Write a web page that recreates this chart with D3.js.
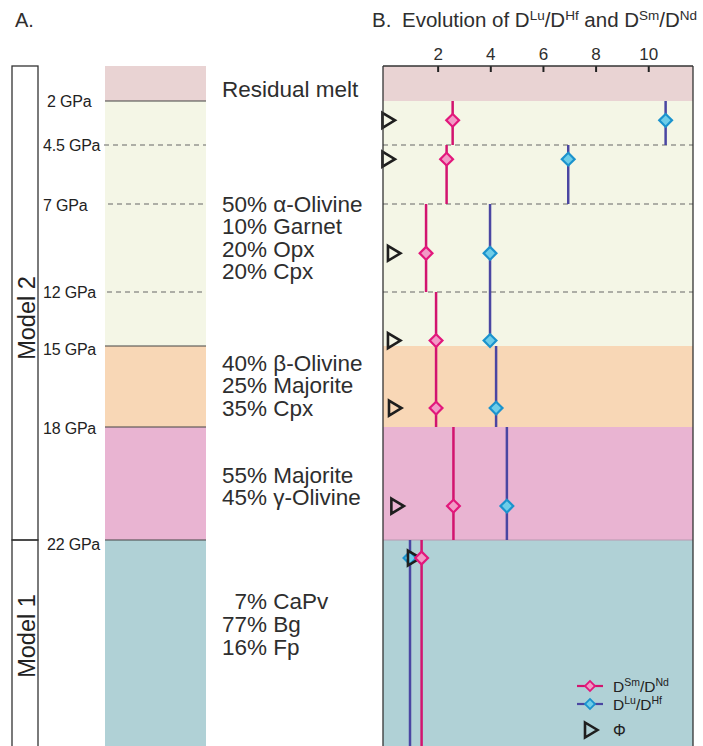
<!DOCTYPE html>
<html><head><meta charset="utf-8">
<script src="https://cdn.jsdelivr.net/npm/d3@7"></script>
<style>
body{margin:0;background:#fff}
svg{display:block}
text{font-family:"Liberation Sans",Arial,Helvetica,sans-serif}
</style>
</head><body>
<svg id="chart" width="703" height="746"></svg>
<script>
// ---------------- DATA ----------------
const pressureTicks = [2, 4.5, 7, 12, 15, 18, 22];
const pressureTickLabels = ["2 GPa", "4.5 GPa", "7 GPa", "12 GPa", "15 GPa", "18 GPa", "22 GPa"];
const solidBoundaries = [2, 15, 18, 22];
const dashedBoundaries = [4.5, 7, 12];
const layerTop = [0, 2, 15, 18, 22];
const layerBottom = [2, 15, 18, 22, 30];
const mineralText = [
  ["Residual melt"],
  ["50% α-Olivine", "10% Garnet", "20% Opx", "20% Cpx"],
  ["40% β-Olivine", "25% Majorite", "35% Cpx"],
  ["55% Majorite", "45% γ-Olivine"],
  ["\u20077% CaPv", "77% Bg", "16% Fp"]
];
const modelNames = ["Model 2", "Model 1"];
const modelTop = [0, 22];
const modelBottom = [22, 30];

const intervalTop = [2, 4.5, 7, 12, 15, 18, 22];
const intervalBottom = [4.5, 7, 12, 15, 18, 22, 30];
const markerPressure = [3.1, 5.1, 9.8, 14.7, 17.3, 20.8, 22.7];
const smNd = [2.57, 2.34, 1.56, 1.94, 1.94, 2.60, 1.39];
const luHf = [10.66, 6.96, 3.99, 3.99, 4.22, 4.63, 0.95];
const phi = [0.13, 0.13, 0.34, 0.34, 0.38, 0.47, 1.10];
const xTicks = [2, 4, 6, 8, 10];

// ---------------- STYLE / LAYOUT ----------------
const layerColors = ["#e9d3d3", "#f4f6e6", "#f8d7b6", "#e9b4d2", "#b0d1d6"];
const C = {
  smLine: "#d2146f", smStroke: "#e2187c", smFill: "#f29ac6",
  luLine: "#4a46a2", luStroke: "#1b93cd", luFill: "#6ecde8",
  text: "#2e2e2e", frame: "#333"
};
const svg = d3.select("#chart");
const y = d3.scaleLinear()
  .domain([0, 2, 4.5, 7, 12, 15, 18, 22, 30])
  .range([66, 101, 145, 204, 292, 346, 427, 540, 746]);
const colA = {x0: 105, x1: 206};
const panelB = {x0: 383, x1: 693};
const x = d3.scaleLinear().domain([0, 11.7]).range([385, 693]);

// ---------- Titles ----------
svg.append("text").attr("x", 15).attr("y", 27).attr("font-size", 20).attr("fill", C.text).text("A.");
const title = svg.append("text").attr("x", 372).attr("y", 27).attr("font-size", 20.5).attr("fill", C.text);
title.append("tspan").text("B.");
title.append("tspan").attr("x", 402).text("Evolution of D");
const supParts = [["Lu", true], ["/D", false], ["Hf", true], [" and D", false], ["Sm", true], ["/D", false], ["Nd", true]];
supParts.forEach(([t, sup]) => {
  const ts = title.append("tspan").text(t).attr("xml:space", "preserve");
  if (sup) ts.attr("font-size", 13.5).attr("dy", -7);
  else ts.attr("dy", 7);
});

// ---------- Panel A ----------
const gA = svg.append("g");
gA.selectAll("rect.model").data(modelNames).join("rect")
  .attr("x", 12).attr("width", 26)
  .attr("y", (d, i) => y(modelTop[i]))
  .attr("height", (d, i) => y(modelBottom[i]) - y(modelTop[i]) + (i === 1 ? 10 : 0))
  .attr("fill", "none").attr("stroke", C.frame).attr("stroke-width", 1.3);
const modelCenters = [318, 636];
gA.selectAll("text.model").data(modelNames).join("text")
  .attr("transform", (d, i) => `translate(27,${modelCenters[i]}) rotate(-90)`)
  .attr("text-anchor", "middle").attr("dominant-baseline", "central")
  .attr("font-size", 23.5).attr("fill", "#222").text(d => d);

gA.selectAll("rect.layer").data(layerColors).join("rect")
  .attr("x", colA.x0).attr("width", colA.x1 - colA.x0)
  .attr("y", (d, i) => y(layerTop[i]))
  .attr("height", (d, i) => y(layerBottom[i]) - y(layerTop[i]))
  .attr("fill", d => d);
gA.selectAll("line.solid").data(solidBoundaries).join("line")
  .attr("x1", colA.x0).attr("x2", colA.x1)
  .attr("y1", d => y(d)).attr("y2", d => y(d))
  .attr("stroke", "#444").attr("stroke-width", 1.2);
const dashStart = [104, 108, 107];
gA.selectAll("line.dash").data(dashedBoundaries).join("line")
  .attr("x1", (d, i) => dashStart[i]).attr("x2", colA.x1)
  .attr("y1", d => y(d)).attr("y2", d => y(d))
  .attr("stroke", "#666").attr("stroke-width", 1.2).attr("stroke-dasharray", "5,4");

const labelDx = [4, 0, 0, 0, 0, 0, 4];
const labelDy = [0, 0, 1, 0, 3, 1, 4];
gA.selectAll("text.gpa").data(pressureTickLabels).join("text")
  .attr("x", (d, i) => 43 + labelDx[i])
  .attr("y", (d, i) => y(pressureTicks[i]) + labelDy[i])
  .attr("dominant-baseline", "central")
  .attr("font-size", 16).attr("letter-spacing", -0.2).attr("fill", "#222").text(d => d);

const groupCenters = [1.37, 7.0, 15.63, 19.7, 24.4];
const lineGap = 22.6;
mineralText.forEach((lines, gi) => {
  gA.selectAll(null).data(lines).join("text")
    .attr("x", 222)
    .attr("y", (d, i) => y(groupCenters[gi]) + i * lineGap)
    .attr("dominant-baseline", "central")
    .attr("font-size", 22.5).attr("fill", C.text)
    .text(d => d);
});

// ---------- Panel B ----------
const gB = svg.append("g");
gB.selectAll("rect.layer").data(layerColors).join("rect")
  .attr("x", panelB.x0).attr("width", panelB.x1 - panelB.x0)
  .attr("y", (d, i) => y(layerTop[i]))
  .attr("height", (d, i) => y(layerBottom[i]) - y(layerTop[i]))
  .attr("fill", d => d);
gB.selectAll("line.dash").data(dashedBoundaries).join("line")
  .attr("x1", panelB.x0).attr("x2", panelB.x1)
  .attr("y1", d => y(d)).attr("y2", d => y(d))
  .attr("stroke", "#666").attr("stroke-width", 1.2).attr("stroke-dasharray", "5,4");
gB.append("line").attr("x1", panelB.x0).attr("x2", panelB.x1)
  .attr("y1", y(22)).attr("y2", y(22)).attr("stroke", "#b79ab0").attr("stroke-width", 1);

const axis = d3.axisTop(x).tickValues(xTicks).tickSizeInner(-6).tickSizeOuter(0).tickPadding(6);
const gAx = gB.append("g").attr("transform", `translate(0,${y(0)})`).call(axis);
gAx.select(".domain").remove();
gAx.selectAll(".tick line").attr("stroke", "#222").attr("stroke-width", 2);
gAx.selectAll(".tick text").attr("font-size", 17).attr("fill", C.text)
  .attr("font-family", "Liberation Sans, Arial, sans-serif");

const idx = d3.range(intervalTop.length);
gB.selectAll("line.sm").data(idx).join("line")
  .attr("x1", i => x(smNd[i])).attr("x2", i => x(smNd[i]))
  .attr("y1", i => y(intervalTop[i])).attr("y2", i => y(intervalBottom[i]))
  .attr("stroke", C.smLine).attr("stroke-width", 2.5);
gB.selectAll("line.lu").data(idx).join("line")
  .attr("x1", i => x(luHf[i])).attr("x2", i => x(luHf[i]))
  .attr("y1", i => y(intervalTop[i])).attr("y2", i => y(intervalBottom[i]))
  .attr("stroke", C.luLine).attr("stroke-width", 2.5);

const diamond = d3.symbol(d3.symbolSquare, 82);
const tri = "M-6,-7.5L6.5,0L-6,7.5Z";
gB.selectAll("path.lu").data(idx).join("path")
  .attr("d", diamond())
  .attr("transform", i => `translate(${x(luHf[i])},${y(markerPressure[i])}) rotate(45)`)
  .attr("fill", C.luFill).attr("stroke", C.luStroke).attr("stroke-width", 2.2);
gB.selectAll("path.phi").data(idx).join("path")
  .attr("d", tri)
  .attr("transform", i => `translate(${x(phi[i])},${y(markerPressure[i])})`)
  .attr("fill", "none").attr("stroke", "#1e1e1e").attr("stroke-width", 2.6);
gB.selectAll("path.sm").data(idx).join("path")
  .attr("d", diamond())
  .attr("transform", i => `translate(${x(smNd[i])},${y(markerPressure[i])}) rotate(45)`)
  .attr("fill", C.smFill).attr("stroke", C.smStroke).attr("stroke-width", 2.2);

gB.append("line").attr("x1", panelB.x0).attr("x2", panelB.x1).attr("y1", y(0)).attr("y2", y(0))
  .attr("stroke", C.frame).attr("stroke-width", 1.3);
[panelB.x0, panelB.x1].forEach(xx => {
  gB.append("line").attr("x1", xx).attr("x2", xx).attr("y1", y(0)).attr("y2", 746)
    .attr("stroke", C.frame).attr("stroke-width", 1.3);
});

// Legend
const legendSeries = [
  {name: "Sm", den: "Nd", line: C.smLine, stroke: C.smStroke, fill: C.smFill},
  {name: "Lu", den: "Hf", line: C.luLine, stroke: C.luStroke, fill: C.luFill}
];
const legY = [686, 704];
const legSym = d3.symbol(d3.symbolSquare, 50);
legendSeries.forEach((s, i) => {
  const g = gB.append("g").attr("transform", `translate(590,${legY[i]})`);
  g.append("line").attr("x1", -13).attr("x2", 13).attr("stroke", s.line).attr("stroke-width", 2.2);
  g.append("path").attr("d", legSym()).attr("transform", "rotate(45)")
    .attr("fill", s.fill).attr("stroke", s.stroke).attr("stroke-width", 1.8);
  const t = g.append("text").attr("x", 23).attr("y", 6).attr("font-size", 15.5).attr("fill", "#222");
  t.append("tspan").text("D");
  t.append("tspan").attr("font-size", 10.5).attr("dy", -6).text(s.name);
  t.append("tspan").attr("dy", 6).text("/D");
  t.append("tspan").attr("font-size", 10.5).attr("dy", -6).text(s.den);
});
const gPhi = gB.append("g").attr("transform", "translate(591,730)");
gPhi.append("path").attr("d", tri).attr("fill", "none").attr("stroke", "#1e1e1e").attr("stroke-width", 2.6);
gPhi.append("text").attr("x", 22).attr("y", 0).attr("dominant-baseline", "central")
  .attr("font-size", 16).attr("fill", "#222").text("Φ");
</script>
</body></html>
